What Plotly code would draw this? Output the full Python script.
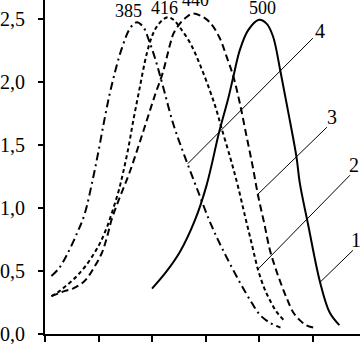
import plotly.graph_objects as go

# Curve 1 (solid, peak 500 nm)
c1_x = [400, 413, 426, 440, 451, 463, 471, 476, 482, 490, 500, 507, 513, 520, 527, 535, 538, 546, 557, 566, 575]
c1_y = [0.36, 0.49, 0.65, 0.90, 1.18, 1.61, 1.86, 2.04, 2.25, 2.41, 2.49, 2.46, 2.36, 2.08, 1.77, 1.40, 1.20, 0.86, 0.41, 0.17, 0.07]

# Curve 2 (short dash, peak 416 nm)
c2_x = [306, 312, 318, 325, 331, 338, 346, 352, 358, 364, 369, 373, 378, 382, 388, 395, 400, 404, 410, 415, 420, 426, 436, 445, 454, 460, 465, 473, 480, 487, 493, 499, 505, 510, 516, 523]
c2_y = [0.30, 0.33, 0.37, 0.42, 0.47, 0.54, 0.64, 0.73, 0.85, 1.00, 1.14, 1.28, 1.48, 1.67, 1.93, 2.22, 2.36, 2.43, 2.49, 2.51, 2.49, 2.43, 2.30, 2.13, 1.93, 1.78, 1.63, 1.40, 1.18, 0.93, 0.72, 0.51, 0.36, 0.27, 0.18, 0.11]

# Curve 3 (long dash, peak 440 nm)
c3_x = [306, 312, 318, 326, 337, 346, 353, 358, 362, 367, 373, 379, 387, 395, 403, 410, 417, 420, 426, 432, 438, 446, 454, 463, 470, 476, 482, 488, 494, 499, 505, 510, 515, 520, 526, 532, 538, 544, 551]
c3_y = [0.30, 0.32, 0.34, 0.36, 0.42, 0.53, 0.64, 0.77, 0.90, 1.02, 1.15, 1.28, 1.48, 1.69, 1.90, 2.07, 2.30, 2.38, 2.46, 2.51, 2.54, 2.52, 2.47, 2.35, 2.19, 2.04, 1.83, 1.58, 1.33, 1.10, 0.87, 0.67, 0.53, 0.41, 0.28, 0.17, 0.11, 0.07, 0.05]

# Curve 4 (dash-dot, peak 385 nm)
c4_x = [306, 313, 320, 330, 337, 344, 350, 356, 362, 372, 380, 386, 392, 397, 403, 410, 420, 430, 443, 455, 466, 482, 493, 501, 510, 520]
c4_y = [0.46, 0.52, 0.62, 0.80, 0.95, 1.20, 1.45, 1.72, 1.96, 2.27, 2.43, 2.47, 2.43, 2.33, 2.18, 1.97, 1.66, 1.42, 1.13, 0.87, 0.67, 0.41, 0.25, 0.15, 0.09, 0.05]

peak_labels = ["385", "416", "440", "500"]
curve_labels = ["1", "2", "3", "4"]

y_ticks = [0.0, 0.5, 1.0, 1.5, 2.0, 2.5]
y_ticktext = ["0,0", "0,5", "1,0", "1,5", "2,0", "2,5"]
x_ticks = [300, 350, 400, 450, 500, 550]

fig = go.Figure()
lw = 2
fig.add_trace(go.Scatter(x=c4_x, y=c4_y, mode="lines", line=dict(color="black", width=lw, dash="8px,4px,2px,4px", shape="spline")))
fig.add_trace(go.Scatter(x=c2_x, y=c2_y, mode="lines", line=dict(color="black", width=lw, dash="4px,3px", shape="spline")))
fig.add_trace(go.Scatter(x=c3_x, y=c3_y, mode="lines", line=dict(color="black", width=lw, dash="7px,4px", shape="spline")))
fig.add_trace(go.Scatter(x=c1_x, y=c1_y, mode="lines", line=dict(color="black", width=lw, shape="spline")))

# leader lines (curve label -> point on curve)
leaders = [
    ((556.8, 0.409), (587.7, 0.663), (590.5, 0.742)),
    ((498.8, 0.512), (584.9, 1.258), (588.6, 1.337)),
    ((498.8, 1.107), (563.4, 1.639), (568.0, 1.720)),
    ((433.4, 1.350), (550.3, 2.345), (557.0, 2.400)),
]
for (p0, p1, lab), txt in zip(leaders, curve_labels):
    fig.add_shape(type="line", x0=p0[0], y0=p0[1], x1=p1[0], y1=p1[1],
                  xref="x", yref="y", line=dict(color="black", width=1))
    fig.add_annotation(x=lab[0], y=lab[1], text=txt, showarrow=False,
                       font=dict(family="Liberation Serif", size=20, color="black"))

peak_pos = [(377.6, 2.556), (411.8, 2.585), (440.8, 2.645), (503.0, 2.585)]
for (px, py), txt in zip(peak_pos, peak_labels):
    fig.add_annotation(x=px, y=py, text=txt, showarrow=False, borderpad=0,
                       font=dict(family="Liberation Serif", size=18, color="black"))

fig.update_layout(
    width=360, height=344,
    margin=dict(l=45, r=0, t=0, b=10, pad=0),
    plot_bgcolor="white", paper_bgcolor="white",
    showlegend=False,
    font=dict(family="Liberation Serif", size=20, color="black"),
)
fig.update_xaxes(range=[300, 594.3], showgrid=False, zeroline=False, automargin=False,
                 showline=True, linecolor="black", linewidth=2,
                 tickmode="array", tickvals=x_ticks, showticklabels=False,
                 ticks="outside", ticklen=6, tickwidth=2, tickcolor="black")
fig.update_yaxes(range=[0, 2.647], showgrid=False, zeroline=False, automargin=False,
                 showline=True, linecolor="black", linewidth=2,
                 tickmode="array", tickvals=y_ticks, ticktext=y_ticktext,
                 ticks="outside", ticklen=5, tickwidth=2, tickcolor="black",
                 ticklabelstandoff=9, ticklabeloverflow="allow")

fig.write_html("out.html", config={"displayModeBar": False},
               post_script="document.body.style.margin='0px';document.body.style.overflow='hidden';")
